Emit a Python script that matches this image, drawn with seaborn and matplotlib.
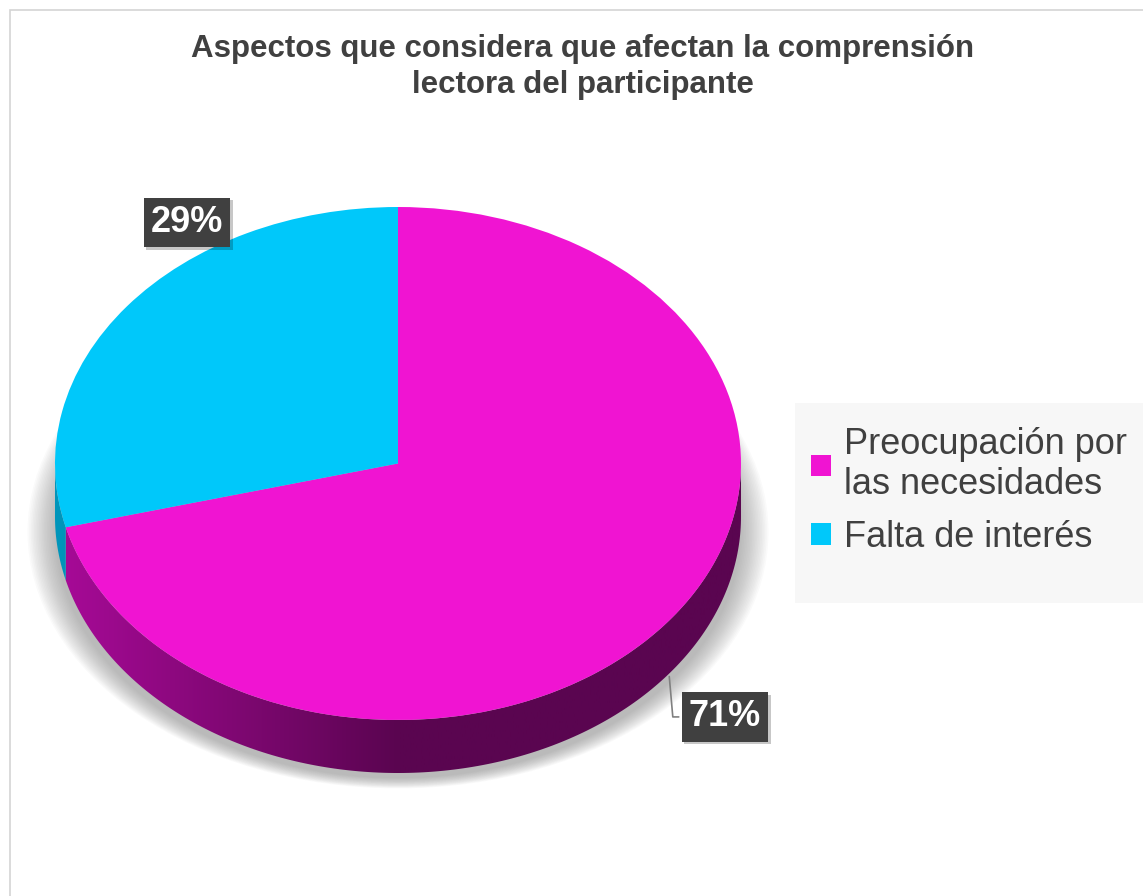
import numpy as np
import matplotlib
matplotlib.use("Agg")
import matplotlib.pyplot as plt
import matplotlib.patheffects as pe
from matplotlib.patches import Polygon, Rectangle, Ellipse
from matplotlib.colors import LinearSegmentedColormap
import seaborn as sns

# --- data ---
categories = ["Preocupación por\nlas necesidades", "Falta de interés"]
shares = [71, 29]
pct_labels = ["71%", "29%"]
title = "Aspectos que considera que afectan la comprensión\nlectora del participante"

colors = ["#f014d2", "#00c8fa"]
side_light = ["#a80a98", "#0096bb"]
side_dark = ["#5a0550", "#005a75"]

sns.set_theme(style="white")
plt.rcParams["font.family"] = ["Liberation Sans", "DejaVu Sans"]

W, H = 1143, 896
fig = plt.figure(figsize=(W / 100, H / 100), dpi=100)
fig.patch.set_facecolor("white")

# background / frame in pixel coords
bg = fig.add_axes([0, 0, 1, 1])
bg.set_xlim(0, W)
bg.set_ylim(H, 0)
bg.axis("off")
bg.add_patch(Rectangle((10, 10), W + 20, H + 20, fc="white", ec="#d4d4d4", lw=1.2))
bg.add_patch(Rectangle((795, 403), W, 200, fc="#f7f7f7", ec="none"))

# pie axes: ellipse radii 343 x 256.5 px, centre (398, 463.5)
rx, ry, cx, cy = 343, 256.5, 398, 463.5
x0, x1, y0, y1 = -1.1, 1.1, -1.5, 1.1
ax = fig.add_axes([(cx + x0 * rx) / W, (H - (cy - y0 * ry)) / H,
                   (x1 - x0) * rx / W, (y1 - y0) * ry / H])
depth = 53 / ry

# soft shadow
for i in range(18):
    k = i / 17
    ax.add_patch(Ellipse((0.0, -depth - 0.06), 2 * (1.08 - 0.08 * k), 2 * (1.0 - 0.04 * k),
                         fc="#7a7a7a", ec="none", alpha=0.035, zorder=0))

wedges, _ = ax.pie(shares, colors=colors, startangle=90, counterclock=False,
                   wedgeprops=dict(linewidth=0, zorder=3))
ax.set_aspect("auto")

# side walls from wedge angles (front half only)
for w, cl, cd in zip(wedges, side_light, side_dark):
    a1, a2 = w.theta1 % 360, w.theta2 % 360
    spans = []
    lo, hi = (a1, a2) if a1 < a2 else (a1, a2 + 360)
    for base in (0, 360):
        s, e = max(lo, 180 + base), min(hi, 360 + base)
        if e > s:
            spans.append((s, e))
    cmap = LinearSegmentedColormap.from_list("side", [cl, cd, cd])
    for s, e in spans:
        t = np.radians(np.linspace(s, e, 200))
        top = np.column_stack([np.cos(t), np.sin(t)])
        bot = np.column_stack([np.cos(t[::-1]), np.sin(t[::-1]) - depth])
        poly = Polygon(np.vstack([top, bot]), closed=True, fc="none", ec="none", zorder=2)
        ax.add_patch(poly)
        grad = np.linspace(0, 1, 256).reshape(1, -1)
        im = ax.imshow(grad, extent=(-1, 1, -1 - depth, 1), cmap=cmap, aspect="auto", zorder=2)
        im.set_clip_path(poly)

ax.set_xlim(x0, x1)
ax.set_ylim(y0, y1)
ax.axis("off")

# percentage labels
box = dict(boxstyle="square,pad=0.2", fc="#404040", ec="none")
shadow = [pe.withSimplePatchShadow(offset=(2, -2), shadow_rgbFace="#000000", alpha=0.22)]
label_pos = [(0.953, -0.988), (-0.615, 0.94)]
for w, txt, pos in zip(wedges, pct_labels, label_pos):
    mid = np.radians((w.theta1 + w.theta2) / 2)
    edge = (np.cos(mid), np.sin(mid) - depth)
    show_line = edge[1] < -0.5
    t = ax.annotate(txt, xy=edge, xytext=pos, ha="center", va="center",
                    fontsize=26, fontweight="bold", color="white", bbox=box, zorder=6,
                    arrowprops=dict(arrowstyle="-", color="#808080", lw=1.2,
                                    connectionstyle="angle,angleA=180,angleB=95",
                                    relpos=(0, 0.5)) if show_line else None)
    t.get_bbox_patch().set_path_effects(shadow)

# title
fig.text(583 / W, 1 - 67 / H, title, ha="center", va="center", fontsize=22.5,
         fontweight="bold", color="#404040", linespacing=1.25)

# legend
leg = fig.legend(wedges, categories, loc="upper left", bbox_to_anchor=(797 / W, 1 - 413 / H),
                 frameon=False, fontsize=26, labelcolor="#404040", handlelength=0.55,
                 handleheight=0.55, handletextpad=0.35, labelspacing=0.5, borderaxespad=0)
for txt in leg.get_texts():
    txt.set_linespacing(1.17)

fig.savefig("out.png", dpi=100)
